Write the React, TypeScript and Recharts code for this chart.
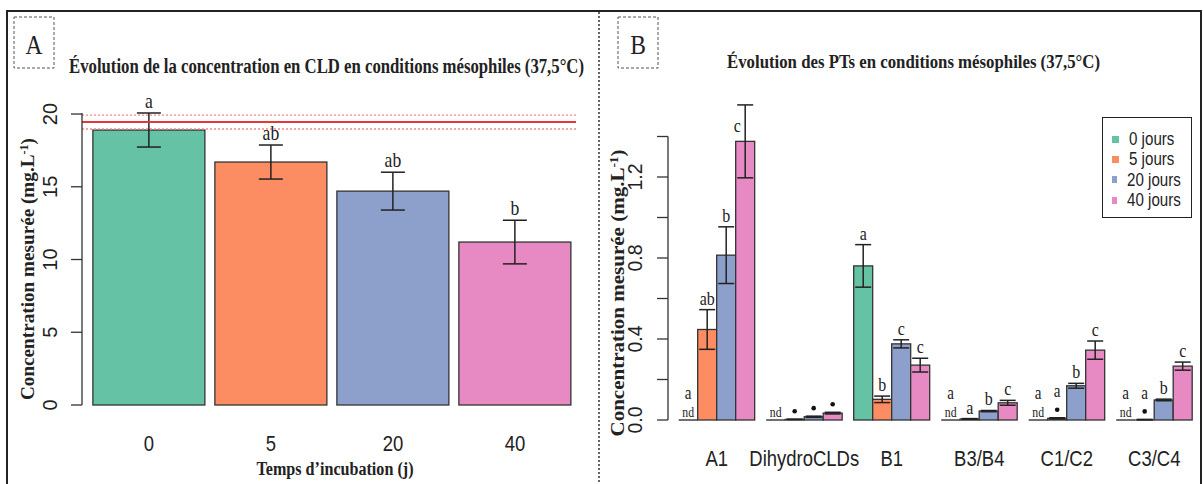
import React from 'react';
import { BarChart, Bar, XAxis, YAxis, ErrorBar, LabelList, ReferenceLine, Legend, Cell } from 'recharts';

const SERIF = '"Liberation Serif", "Times New Roman", serif';
const SANS = '"Liberation Sans", Arial, sans-serif';
const INK = '#333333';

// ---- panel A : CLD concentration
const daysA = ['0', '5', '20', '40'];
const concA = [18.9, 16.7, 14.7, 11.2];
const seA = [1.17, 1.17, 1.3, 1.5];
const lettersA = ['a', 'ab', 'ab', 'b'];
const colorsA = ['#66C2A5', '#FC8D62', '#8DA0CB', '#E78AC3'];
const ticksA = [0, 5, 10, 15, 20];
const cldRef = 19.45;
const cldRefLow = 18.97;
const cldRefHigh = 19.93;

// ---- panel B : PTs
const compounds = ['A1', 'DihydroCLDs', 'B1', 'B3/B4', 'C1/C2', 'C3/C4'];
const seriesB = ['0 jours', '5 jours', '20 jours', '40 jours'];
const j0 = [0, 0, 0.761, 0, 0, 0];
const j5 = [0.447, 0.003, 0.102, 0.005, 0.008, 0.002];
const j20 = [0.814, 0.016, 0.376, 0.044, 0.169, 0.099];
const j40 = [1.376, 0.034, 0.271, 0.085, 0.345, 0.266];
const se0 = [0, 0, 0.105, 0, 0, 0];
const se5 = [0.098, 0.001, 0.016, 0.002, 0.003, 0.001];
const se20 = [0.14, 0.003, 0.02, 0.003, 0.012, 0.004];
const se40 = [0.18, 0.004, 0.034, 0.012, 0.045, 0.02];
const let0 = ['a', '', 'a', 'a', 'a', 'a'];
const let5 = ['ab', '', 'b', 'a', 'a', 'a'];
const let20 = ['b', '', 'c', 'b', 'b', 'b'];
const let40 = ['c', '', 'c', 'c', 'c', 'c'];
const mark0 = ['nd', 'nd', '', 'nd', 'nd', 'nd'];
const mark5 = ['', 'dot', '', '', 'dot', 'dot'];
const mark20 = ['', 'dot', '', '', '', ''];
const mark40 = ['', 'dot', '', '', '', ''];
const ticksB = [0, 0.2, 0.4, 0.6, 0.8, 1.0, 1.2, 1.4];

const rowsA = daysA.map((d, i) => ({ day: d, conc: concA[i], se: seA[i], letter: lettersA[i] }));

const valsB = [j0, j5, j20, j40];
const sesB = [se0, se5, se20, se40];
const letsB = [let0, let5, let20, let40];
const marksB = [mark0, mark5, mark20, mark40];
const rowsB = compounds.map((c, i) => {
  const r: any = { name: c };
  for (let k = 0; k < 4; k++) {
    r[`v${k}`] = valsB[k][i];
    r[`e${k}`] = sesB[k][i];
    r[`l${k}`] = letsB[k][i];
    r[`m${k}`] = marksB[k][i];
  }
  return r;
});

// layout
const A_TOP = 113;
const B_TOP = 96;
const B_BASE = 420;
const B_MAX = 1.6;
const B_STEP = ((B_BASE - B_TOP) * 0.2) / B_MAX;
const SQUEEZE = 0.84; // the source figure is slightly condensed horizontally
const TITLE_SQ = 0.82;

const geom = (p: any) => {
  const vb = p.viewBox || p;
  return { x: Number(vb.x ?? p.x), y: Number(vb.y ?? p.y), w: Number(vb.width ?? p.width), h: Number(vb.height ?? p.height) };
};

const Narrow = ({ x, y, size, font, weight, children, fill }: any) => (
  <text transform={`translate(${x},${y}) scale(${SQUEEZE},1)`} textAnchor="middle" fontFamily={font} fontWeight={weight} fontSize={size} fill={fill || '#222'}>
    {children}
  </text>
);

// bold serif title squeezed to a given on-screen width
const Title = ({ x, y, width, size, anchor, children }: any) => (
  <text
    transform={`translate(${x},${y}) scale(${TITLE_SQ},1)`}
    textAnchor={anchor || 'start'}
    textLength={width / TITLE_SQ}
    lengthAdjust="spacingAndGlyphs"
    fontFamily={SERIF}
    fontWeight="bold"
    fontSize={size}
    fill="#222"
  >
    {children}
  </text>
);

const XTick = ({ x, y, payload }: any) => (
  <Narrow x={x} y={y + 46} size={22} font={SANS}>
    {payload.value}
  </Narrow>
);

const YTickA = ({ x, y, payload }: any) => (
  <g>
    <line x1={x - 11} x2={x} y1={y} y2={y} stroke={INK} strokeWidth={1.3} />
    <text transform={`translate(${x - 32},${y}) rotate(-90)`} dy="0.35em" textAnchor="middle" fontFamily={SANS} fontSize={20} fill="#222">
      {payload.value}
    </text>
  </g>
);

const YTickB = ({ x, y, payload, index }: any) => (
  <g>
    <line x1={x - 11} x2={x} y1={y} y2={y} stroke={INK} strokeWidth={1.3} />
    {index < ticksB.length - 1 && <line x1={x} x2={x} y1={y} y2={y - B_STEP} stroke={INK} strokeWidth={1.3} />}
    {index % 2 === 0 && (
      <text transform={`translate(${x - 33},${y}) rotate(-90)`} dy="0.35em" textAnchor="middle" fontFamily={SANS} fontSize={19.5} fill="#222">
        {Number(payload.value).toFixed(1)}
      </text>
    )}
  </g>
);

const BarShape = (props: any) => {
  const { x, y, width, height, fill } = props;
  if (!height || height < 0.5) {
    return <line x1={x} x2={x + width} y1={y + (height || 0)} y2={y + (height || 0)} stroke={INK} strokeWidth={1.4} />;
  }
  return <rect x={x} y={y} width={width} height={height} fill={fill} stroke={INK} strokeWidth={1.3} />;
};

const labelA = (props: any) => {
  const { x, y, w, h } = geom(props);
  const row = rowsA[props.index];
  const ppu = row.conc > 0 ? h / row.conc : 0;
  const top = y - row.se * ppu;
  return (
    <Narrow x={x + w / 2} y={top - 5} size={21} font={SERIF}>
      {row.letter}
    </Narrow>
  );
};

const labelB = (k: number) => (props: any) => {
  const { x, y, w, h } = geom(props);
  const row = rowsB[props.index];
  const v = row[`v${k}`];
  const e = row[`e${k}`];
  const letter = row[`l${k}`];
  const mark = row[`m${k}`];
  const cx = x + w / 2;
  const ppu = v > 0 ? h / v : 0;
  const top = y - e * ppu;
  const out: any[] = [];
  if (mark === 'nd') {
    out.push(<Narrow key="m" x={cx} y={y - 3} size={14} font={SERIF}>nd</Narrow>);
    if (letter) out.push(<Narrow key="l" x={cx} y={y - 21} size={18} font={SERIF}>{letter}</Narrow>);
  } else if (mark === 'dot') {
    out.push(<circle key="m" cx={cx} cy={top - 8} r={2.3} fill="#111" />);
    if (letter) out.push(<Narrow key="l" x={cx} y={y - 21} size={18} font={SERIF}>{letter}</Narrow>);
  } else if (letter) {
    // letters above the last tick would leave the plot: put them beside the error bar
    if (v + e > 1.5) {
      out.push(<Narrow key="l" x={cx - 8} y={y - 9} size={19} font={SERIF}>{letter}</Narrow>);
    } else {
      out.push(<Narrow key="l" x={cx} y={top - 5} size={19} font={SERIF}>{letter}</Narrow>);
    }
  }
  return <g>{out}</g>;
};

const LegendBox = ({ payload }: any) => {
  const list = (payload || []) as any[];
  return (
    <div style={{ boxSizing: 'border-box', width: 90, height: 101, border: '1.5px solid #222', background: '#fff', paddingTop: 11, paddingLeft: 9 }}>
      {seriesB.map((s, i) => {
        const hit = list.find((p) => p.value === s);
        return (
          <div key={s} style={{ display: 'flex', alignItems: 'center', height: 20.3 }}>
            <div style={{ width: 7, height: 7, background: hit ? hit.color : colorsA[i], marginRight: 10 }} />
            <span style={{ display: 'inline-block', fontFamily: SANS, fontSize: 18, color: '#222', lineHeight: '20px', transform: `scaleX(${SQUEEZE})`, transformOrigin: 'left center', whiteSpace: 'nowrap' }}>
              {s}
            </span>
          </div>
        );
      })}
    </div>
  );
};

export default function App() {
  return (
    <div style={{ position: 'absolute', left: 0, top: 0, width: 1203, height: 484, background: '#fff', overflow: 'hidden' }}>
      <div style={{ position: 'absolute', left: 0, top: 0 }}>
        <BarChart width={600} height={484} data={rowsA} margin={{ top: A_TOP, right: 24, bottom: 19, left: 0 }} barCategoryGap="4%">
          <XAxis dataKey="day" padding={{ left: 6, right: 0 }} axisLine={false} tickLine={false} tickSize={0} tickMargin={0} height={60} interval={0} tick={XTick} />
          <YAxis domain={[0, 20]} ticks={ticksA} width={82} tickSize={0} tickMargin={0} tickLine={false} axisLine={{ stroke: INK, strokeWidth: 1.3 }} tick={YTickA} />
          <Bar dataKey="conc" isAnimationActive={false} shape={BarShape}>
            {rowsA.map((r, i) => (
              <Cell key={r.day} fill={colorsA[i]} />
            ))}
            <ErrorBar dataKey="se" width={12} stroke="#222" strokeWidth={1.5} />
            <LabelList dataKey="letter" content={labelA} />
          </Bar>
          <ReferenceLine y={cldRefHigh} stroke="#ee8a8a" strokeWidth={1.3} strokeDasharray="2 2" />
          <ReferenceLine y={cldRefLow} stroke="#ee8a8a" strokeWidth={1.3} strokeDasharray="2 2" />
          <ReferenceLine y={cldRef} stroke="#e5383b" strokeWidth={2} />
        </BarChart>
      </div>
      <div style={{ position: 'absolute', left: 600, top: 0 }}>
        <BarChart width={603} height={484} data={rowsB} margin={{ top: B_TOP, right: 5, bottom: 4, left: 0 }} barCategoryGap="6.5%" barGap={0}>
          <XAxis dataKey="name" padding={{ left: 5, right: 0 }} axisLine={false} tickLine={false} tickSize={0} tickMargin={0} height={60} interval={0} tick={XTick} />
          <YAxis domain={[0, B_MAX]} ticks={ticksB} width={68} tickSize={0} tickMargin={0} tickLine={false} axisLine={false} tick={YTickB} />
          <Legend layout="vertical" align="center" verticalAlign="middle" content={LegendBox} wrapperStyle={{ left: 502, top: 117, width: 90, height: 101 }} />
          {seriesB.map((s, k) => (
            <Bar key={s} name={s} dataKey={`v${k}`} fill={colorsA[k]} isAnimationActive={false} shape={BarShape}>
              <ErrorBar dataKey={`e${k}`} width={8} stroke="#222" strokeWidth={1.5} />
              <LabelList dataKey={`l${k}`} content={labelB(k)} />
            </Bar>
          ))}
        </BarChart>
      </div>
      <svg width={1203} height={484} style={{ position: 'absolute', left: 0, top: 0, pointerEvents: 'none' }}>
        <rect x={7} y={11} width={1194} height={480} fill="none" stroke="#222" strokeWidth={2} />
        <line x1={599} x2={599} y1={12} y2={484} stroke="#333" strokeWidth={1.5} strokeDasharray="2 2" />
        <rect x={14} y={17} width={40} height={51} fill="none" stroke="#555" strokeWidth={1} strokeDasharray="3 2" />
        <Narrow x={34} y={54} size={28} font={SERIF}>A</Narrow>
        <rect x={618} y={17} width={40} height={51} fill="none" stroke="#555" strokeWidth={1} strokeDasharray="3 2" />
        <Narrow x={638} y={54} size={28} font={SERIF}>B</Narrow>
        <Title x={69} y={73} width={515} size={20}>
          Évolution de la concentration en CLD en conditions mésophiles (37,5°C)
        </Title>
        <Title x={727} y={68} width={373} size={19}>
          Évolution des PTs en conditions mésophiles (37,5°C)
        </Title>
        <Title x={335} y={475} width={157} size={19} anchor="middle">
          Temps d’incubation (j)
        </Title>
        <text transform="translate(34,269) rotate(-90)" textAnchor="middle" textLength={262} lengthAdjust="spacingAndGlyphs" fontFamily={SERIF} fontWeight="bold" fontSize={19} fill="#222">
          Concentration mesurée (mg.L<tspan dy={-6} fontSize={12}>-1</tspan><tspan dy={6}>)</tspan>
        </text>
        <text transform="translate(624,293) rotate(-90)" textAnchor="middle" textLength={287} lengthAdjust="spacingAndGlyphs" fontFamily={SERIF} fontWeight="bold" fontSize={19} fill="#222">
          Concentration mesurée (mg.L<tspan dy={-6} fontSize={12}>-1</tspan><tspan dy={6}>)</tspan>
        </text>
      </svg>
    </div>
  );
}
